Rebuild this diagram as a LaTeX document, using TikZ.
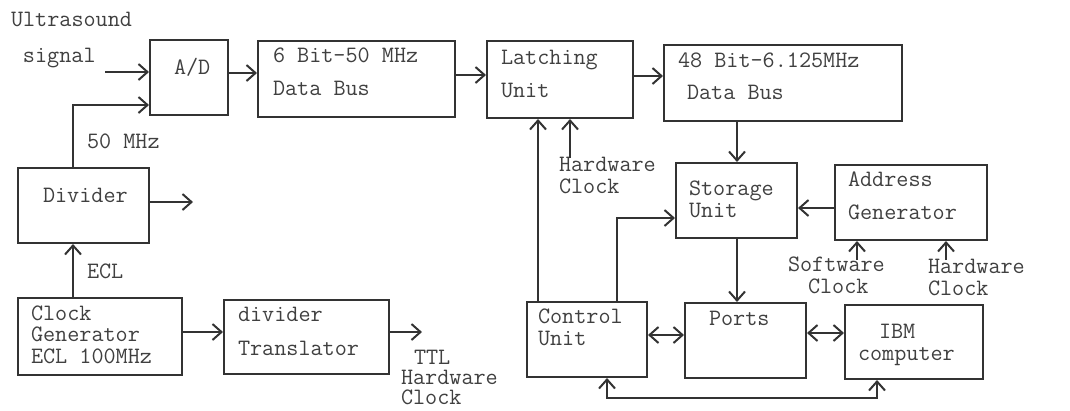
\documentclass[tikz,border=0pt]{standalone}
\usetikzlibrary{positioning,arrows.meta}

\begin{document}
\lineskiplimit=-30pt
\begin{tikzpicture}[x=1pt,y=-1pt,
    line width=2pt, color=black!80,
    >={Straight Barb[length=9pt,width=16pt]},
    blk/.style={draw, rectangle, inner sep=0pt},
    lbl/.style={anchor=base west, inner sep=0pt, align=left, text=black!75,
      font=\ttfamily\fontsize{23.5}{21.5}\selectfont}]
  \useasboundingbox (0,0) rectangle (1070,410);

  % boxes
  \node[blk, minimum width=78pt,  minimum height=75pt] (ad)    at (189,77.5)   {};
  \node[blk, minimum width=197pt, minimum height=76pt] (bus6)  at (356.5,79)   {};
  \node[blk, minimum width=146pt, minimum height=77pt] (latch) at (560,79.5)   {};
  \node[blk, minimum width=238pt, minimum height=76pt] (bus48) at (783,83)     {};
  \node[blk, minimum width=131pt, minimum height=75pt] (dv)    at (83.5,205.5) {};
  \node[blk, minimum width=164pt, minimum height=77pt] (clk)   at (100,336.5)  {};
  \node[blk, minimum width=165pt, minimum height=74pt] (trans) at (306.5,337)  {};
  \node[blk, minimum width=121pt, minimum height=75pt] (stor)  at (736.5,200.5) {};
  \node[blk, minimum width=152pt, minimum height=75pt] (addr)  at (911,202.5)  {};
  \node[blk, minimum width=120pt, minimum height=75pt] (ctrl)  at (587,339.5)  {};
  \node[blk, minimum width=121pt, minimum height=75pt] (ports) at (745.5,340.5) {};
  \node[blk, minimum width=138pt, minimum height=74pt] (ibm)   at (914,342)    {};

  % texts
  \node[lbl] (ust)    at (10,62)   {Ultrasound\\[14pt]\hspace*{12pt}signal};
  \node[lbl] (adt)    at (173,74)  {A/D};
  \node[lbl] (bus6t)  at (272,95)  {6 Bit-50 MHz\\[11pt]Data Bus};
  \node[lbl] (latcht) at (500,97)  {Latching\\[11pt]Unit};
  \node[lbl] (bus48t) at (677,99)  {48 Bit-6.125MHz\\[10pt]\hspace*{9pt}Data Bus};
  \node[lbl] (mhzt)   at (86,148)  {50 MHz};
  \node[lbl] (dvt)    at (42,202)  {Divider};
  \node[lbl] (eclt)   at (86,278)  {ECL};
  \node[lbl] (clkt)   at (30,363)  {Clock\\Generator\\ECL 100MHz};
  \node[lbl] (transt) at (237,355) {divider\\[12pt]Translator};
  \node[lbl] (ttlt)   at (400,404) {\hspace*{13pt}TTL\\[-1.5pt]Hardware\\[-1.5pt]Clock};
  \node[lbl] (hwt)    at (558,193) {Hardware\\Clock};
  \node[lbl] (stort)  at (688,217) {Storage\\Unit};
  \node[lbl] (addrt)  at (847,219) {Address\\[11pt]Generator};
  \node[lbl] (swt)    at (787,293) {Software\\\hspace*{20pt}Clock};
  \node[lbl] (hw2t)   at (927,295) {Hardware\\Clock};
  \node[lbl] (ctrlt)  at (537,345) {Control\\Unit};
  \node[lbl] (portst) at (708,325) {Ports};
  \node[lbl] (ibmt)   at (857,360) {\hspace*{21pt}IBM\\computer};

  % free ends
  \coordinate (usin)  at (105,72);
  \coordinate (mhz)   at (73,105);
  \coordinate (dvout) at (193,202);
  \coordinate (ttlout) at (422,332);
  \coordinate (hwin)  at (570,158);
  \coordinate (swin)  at (857,260);
  \coordinate (hw2in) at (946,260);
  \coordinate (loop)  at (607,398);

  % connectors
  \draw[->] (usin) -- (ad.west |- usin);
  \draw[->] (dv.north -| mhz) |- (ad.west |- mhz);
  \draw[->] (ad.east |- 0,73) -- (bus6.west |- 0,73);
  \draw[->] (bus6.east |- 0,75) -- (latch.west |- 0,75);
  \draw[->] (latch.east |- 0,76) -- (bus48.west |- 0,76);
  \draw[->] (dv.east |- dvout) -- (dvout);
  \draw[->] (clk.north -| mhz) -- (dv.south -| mhz);
  \draw[->] (clk.east |- 0,332) -- (trans.west |- 0,332);
  \draw[->] (trans.east |- ttlout) -- (ttlout);
  \draw[->] (ctrl.north -| 538,0) -- (latch.south -| 538,0);
  \draw[->] (hwin) -- (latch.south -| hwin);
  \draw[->] (bus48.south -| 737,0) -- (stor.north -| 737,0);
  \draw[->] (stor.south -| 737,0) -- (ports.north -| 737,0);
  \draw[->] (addr.west |- 0,208) -- (stor.east |- 0,208);
  \draw[->] (ctrl.north -| 617,0) |- (stor.west |- 0,218);
  \draw[->] (swin) -- (addr.south -| swin);
  \draw[->] (hw2in) -- (addr.south -| hw2in);
  \draw[<->] (ctrl.east |- 0,335) -- (ports.west |- 0,335);
  \draw[<->] (ports.east |- 0,333) -- (ibm.west |- 0,333);
  \draw[<->] (ctrl.south -| loop) -- (loop) -| (ibm.south -| 877,0);
\end{tikzpicture}
\end{document}
